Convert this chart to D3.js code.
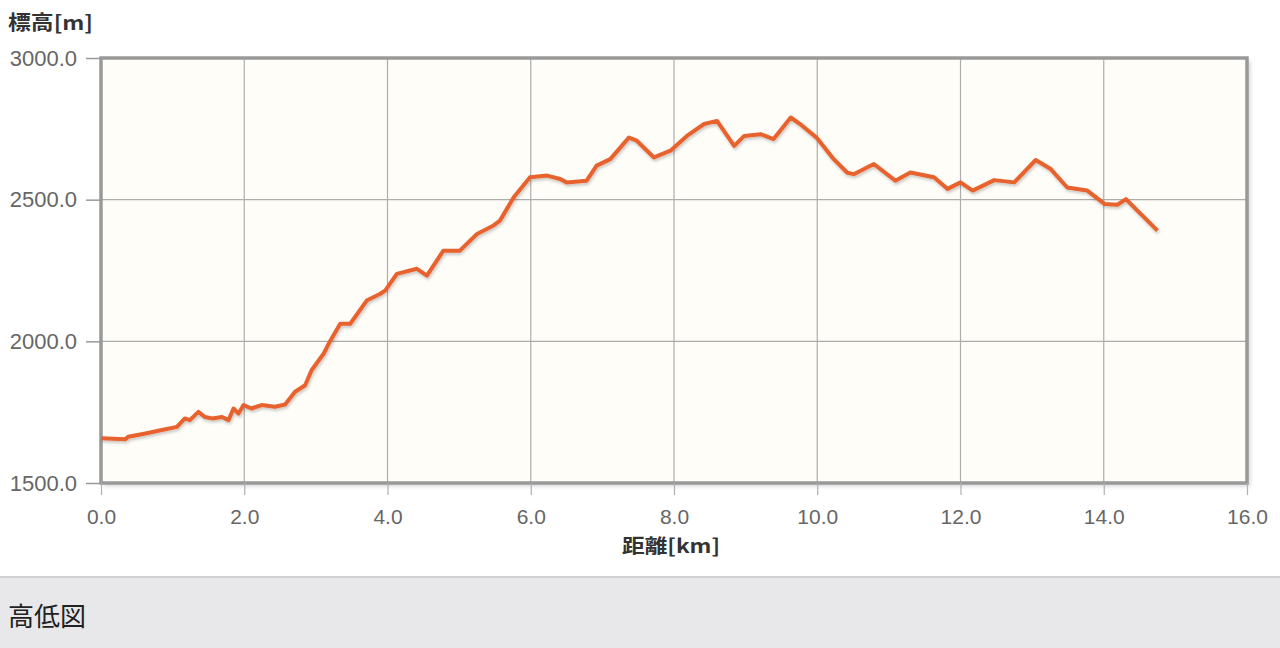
<!DOCTYPE html>
<html><head><meta charset="utf-8">
<script src="https://cdn.jsdelivr.net/npm/d3@7"></script>
<style>
html,body{margin:0;padding:0;background:#fff;}
svg{display:block;}
</style></head>
<body>
<svg id="c" width="1280" height="648"></svg>
<script>
const distanceKm = [0.00,0.34,0.38,0.62,0.85,1.06,1.17,1.24,1.36,1.45,1.55,1.69,1.78,1.85,1.92,1.99,2.10,2.24,2.43,2.57,2.71,2.85,2.94,3.11,3.18,3.34,3.48,3.71,3.90,3.97,4.13,4.41,4.55,4.78,5.01,5.25,5.48,5.57,5.76,5.99,6.23,6.41,6.50,6.78,6.92,7.11,7.37,7.48,7.72,7.95,8.18,8.42,8.60,8.84,8.98,9.21,9.39,9.63,9.76,9.99,10.23,10.42,10.51,10.79,11.09,11.30,11.63,11.82,12.00,12.17,12.47,12.75,13.05,13.26,13.49,13.77,14.01,14.19,14.31,14.47,14.75];
const elevationM = [1658,1654,1663,1675,1687,1698,1728,1722,1751,1733,1728,1733,1722,1763,1745,1775,1763,1775,1769,1777,1822,1845,1898,1957,1992,2062,2062,2144,2168,2180,2238,2256,2232,2320,2320,2379,2409,2426,2508,2579,2585,2573,2561,2567,2620,2643,2719,2708,2649,2673,2725,2767,2778,2690,2725,2731,2714,2790,2767,2719,2643,2595,2590,2626,2567,2596,2579,2538,2561,2532,2569,2561,2640,2608,2543,2532,2485,2482,2502,2461,2391];
const xTicks = [0,2,4,6,8,10,12,14,16];
const yTicks = [1500,2000,2500,3000];
const yTitle = "標高[m]";
const xTitle = "距離[km]";
const footerText = "高低図";

const svg = d3.select("#c");
const L = 101, R = 1247, T = 58, B = 483;
const x = d3.scaleLinear().domain([0,16]).range([L,R]);
const y = d3.scaleLinear().domain([1500,3000]).range([B,T]);

const defs = svg.append("defs");
const f = defs.append("filter").attr("id","sh").attr("x","-5%").attr("y","-5%").attr("width","110%").attr("height","120%");
f.append("feDropShadow").attr("dx",1).attr("dy",2).attr("stdDeviation",1.5).attr("flood-color","#000").attr("flood-opacity",0.22);
const f2 = defs.append("filter").attr("id","bsh").attr("x","-2%").attr("y","-2%").attr("width","104%").attr("height","106%");
f2.append("feDropShadow").attr("dx",3).attr("dy",3).attr("stdDeviation",2).attr("flood-color","#000").attr("flood-opacity",0.18);

// plot background
svg.append("rect").attr("x",L).attr("y",T).attr("width",R-L).attr("height",B-T)
  .attr("fill","#fffdf8").attr("filter","url(#bsh)");

// grid
svg.append("g").selectAll("line").data(xTicks.slice(1,-1)).join("line")
  .attr("x1",d=>x(d)).attr("x2",d=>x(d)).attr("y1",T).attr("y2",B)
  .attr("stroke","#adadad").attr("stroke-width",1.2);
svg.append("g").selectAll("line").data(yTicks.slice(1,-1)).join("line")
  .attr("x1",L).attr("x2",R).attr("y1",d=>y(d)).attr("y2",d=>y(d))
  .attr("stroke","#adadad").attr("stroke-width",1.2);

// frame
svg.append("rect").attr("x",L).attr("y",T).attr("width",R-L).attr("height",B-T)
  .attr("fill","none").attr("stroke","#999").attr("stroke-width",3.5);

const tickFont = "'Liberation Sans', Arial, sans-serif";
// axes
const xAxis = d3.axisBottom(x).tickValues(xTicks).tickFormat(d3.format(".1f")).tickSize(12).tickPadding(14);
const gx = svg.append("g").attr("transform",`translate(0,${B})`).call(xAxis);
gx.select(".domain").remove();
gx.selectAll(".tick line").attr("stroke","#b0b0b0").attr("stroke-width",1.2);
gx.selectAll(".tick text").attr("fill","#666").style("font-family",tickFont).style("font-size","21px");

const yAxis = d3.axisLeft(y).tickValues(yTicks).tickFormat(d3.format(".1f")).tickSize(15).tickPadding(9);
const gy = svg.append("g").attr("transform",`translate(${L},0)`).call(yAxis);
gy.select(".domain").remove();
gy.selectAll(".tick line").attr("stroke","#999").attr("stroke-width",1.5);
gy.selectAll(".tick text").attr("fill","#666").style("font-family",tickFont).style("font-size","22px");

// line
const pts = distanceKm.map((d,i)=>[d,elevationM[i]]);
const line = d3.line().x(d=>x(d[0])).y(d=>y(d[1]));
svg.append("path").datum(pts).attr("d",line).attr("fill","none")
  .attr("stroke","#e8622f").attr("stroke-width",4).attr("stroke-linejoin","round")
  .attr("filter","url(#sh)");

// titles
svg.append("text").attr("x",8).attr("y",30).text(yTitle)
  .attr("textLength",85).attr("lengthAdjust","spacingAndGlyphs")
  .attr("fill","#333").style("font-family","'Noto Sans CJK JP', sans-serif").style("font-size","20px").style("font-weight","bold");
svg.append("text").attr("x",622).attr("y",553).text(xTitle)
  .attr("textLength",98).attr("lengthAdjust","spacingAndGlyphs")
  .attr("fill","#333").style("font-family","'Noto Sans CJK JP', sans-serif").style("font-size","19px").style("font-weight","bold");

// footer
svg.append("rect").attr("x",0).attr("y",577).attr("width",1280).attr("height",71).attr("fill","#e8e8ea");
svg.append("line").attr("x1",0).attr("x2",1280).attr("y1",577).attr("y2",577).attr("stroke","#d0d0d0").attr("stroke-width",2);
svg.append("text").attr("x",8).attr("y",626).text(footerText)
  .attr("fill","#222").style("font-family","'Noto Sans CJK JP', sans-serif").style("font-size","26px");
</script>
</body></html>
